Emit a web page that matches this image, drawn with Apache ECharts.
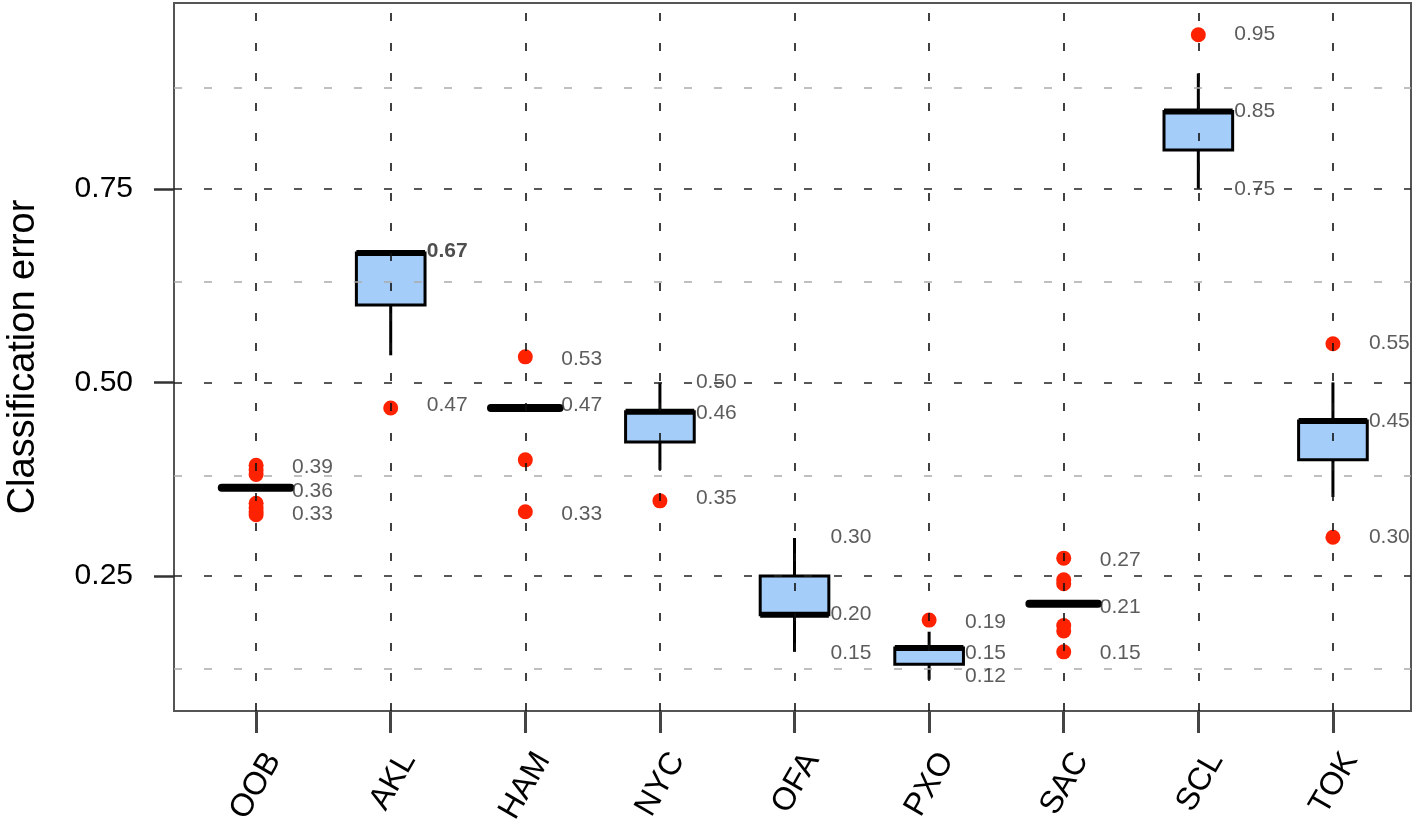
<!DOCTYPE html>
<html>
<head>
<meta charset="utf-8">
<script src="https://cdn.jsdelivr.net/npm/echarts@6/dist/echarts.min.js"></script>
<style>
html,body{margin:0;padding:0;background:#fff;}
#chart{width:1418px;height:822px;}
</style>
</head>
<body>
<div id="chart"></div>
<script>
// ---- data ----
const categories = ['OOB','AKL','HAM','NYC','OFA','PXO','SAC','SCL','TOK'];
// [lowWhisker, Q1, median, Q3, highWhisker]
const boxStats = [
  [0.364, 0.364, 0.364, 0.364, 0.364],
  [0.535, 0.600, 0.667, 0.667, 0.667],
  [0.467, 0.467, 0.467, 0.467, 0.467],
  [0.387, 0.423, 0.462, 0.462, 0.500],
  [0.152, 0.200, 0.200, 0.250, 0.299],
  [0.116, 0.136, 0.157, 0.157, 0.178],
  [0.214, 0.214, 0.214, 0.214, 0.214],
  [0.750, 0.800, 0.850, 0.850, 0.899],
  [0.352, 0.400, 0.450, 0.450, 0.500]
];
const outliers = [
  [0.393, 0.387, 0.381, 0.344, 0.338, 0.333, 0.329],
  [0.467],
  [0.533, 0.400, 0.333],
  [0.347],
  [],
  [0.193],
  [0.273, 0.245, 0.240, 0.186, 0.179, 0.152],
  [0.949],
  [0.550, 0.300]
];
const valueLabels = [
  ['0.39','0.36','0.33'],
  ['0.67','0.47'],
  ['0.53','0.47','0.33'],
  ['0.50','0.46','0.35'],
  ['0.30','0.20','0.15'],
  ['0.19','0.15','0.12'],
  ['0.27','0.21','0.15'],
  ['0.95','0.85','0.75'],
  ['0.55','0.45','0.30']
];
const boldLabels = ['AKL 0.67'];
const yTicks = [0.25, 0.50, 0.75];
const yMinorGrid = [0.125, 0.375, 0.625, 0.875];

// ---- build ----
const xs = categories.map((c, i) => i + 1);
const LABEL_SHIFT = 0.13; // rotated labels sit slightly right of their tick
const xLabelPos = xs.map(v => v + LABEL_SHIFT);
const boxData = boxStats.map((s, i) => [i + 1].concat(s));
const outlierData = [];
outliers.forEach((arr, i) => arr.forEach(v => outlierData.push([i + 1, v])));
const labelData = [];
valueLabels.forEach((arr, i) => arr.forEach(t => {
  const item = {value: [i + 1, parseFloat(t)], name: t};
  if (boldLabels.indexOf(categories[i] + ' ' + t) >= 0) item.label = {fontWeight:'bold', color:'#222'};
  labelData.push(item);
}));

const HALF = 0.255;
function renderBox(params, api) {
  const x = api.value(0);
  const lo = api.value(1), q1 = api.value(2), med = api.value(3), q3 = api.value(4), hi = api.value(5);
  const pLo = api.coord([x, lo]), pQ1 = api.coord([x, q1]), pMed = api.coord([x, med]),
        pQ3 = api.coord([x, q3]), pHi = api.coord([x, hi]);
  const left = api.coord([x - HALF, med])[0], right = api.coord([x + HALF, med])[0];
  const children = [];
  const black = '#000';
  if (hi > q3) children.push({type:'line', shape:{x1:pQ3[0], y1:pQ3[1], x2:pHi[0], y2:pHi[1]}, style:{stroke:black, lineWidth:3}});
  if (lo < q1) children.push({type:'line', shape:{x1:pQ1[0], y1:pQ1[1], x2:pLo[0], y2:pLo[1]}, style:{stroke:black, lineWidth:3}});
  if (q3 > q1) {
    children.push({type:'rect', shape:{x:left, y:pQ3[1], width:right-left, height:pQ1[1]-pQ3[1]},
      style:{fill:'rgba(110,175,245,0.62)', stroke:black, lineWidth:3}});
  }
  children.push({type:'line', shape:{x1:left, y1:pMed[1], x2:right, y2:pMed[1]},
    style:{stroke:black, lineWidth:(q3 > q1 ? 6 : 8), lineCap:(q3 > q1 ? 'butt' : 'round')}});
  return {type:'group', children};
}

const chart = echarts.init(document.getElementById('chart'), null, {renderer:'canvas'});
const dashV = [8, 22];
chart.setOption({
  animation: false,
  backgroundColor: '#fff',
  grid: {left:174, top:3, right:7, bottom:111, show:true, borderColor:'#555', borderWidth:2,
    backgroundColor:'transparent', containLabel:false, outerBoundsMode:'none'},
  xAxis: [{
    type:'value', min:0.39, max:9.58,
    axisLine:{show:false}, splitLine:{show:false},
    axisTick:{show:true, customValues: xs, length:22, lineStyle:{color:'#444', width:3}},
    axisLabel:{customValues: xLabelPos, rotate:60, fontSize:32, color:'#000', margin:44,
      fontFamily:'Liberation Sans, Arial, sans-serif',
      formatter: v => categories[Math.round(v - LABEL_SHIFT) - 1] || ''}
  }],
  yAxis: {
    type:'value', min:0.0756, max:0.99,
    name:'Classification error', nameLocation:'middle', nameGap:131, nameRotate:90,
    nameTextStyle:{fontSize:38, color:'#000', fontFamily:'Liberation Sans, Arial, sans-serif'},
    axisLine:{show:false}, splitLine:{show:false},
    axisTick:{show:true, customValues: yTicks, length:20, lineStyle:{color:'#333', width:2.5}},
    axisLabel:{customValues: yTicks, fontSize:30, color:'#000', margin:41,
      fontFamily:'Liberation Sans, Arial, sans-serif',
      formatter: v => v.toFixed(2)}
  },
  series: [
    {
      type:'custom', name:'box', renderItem: renderBox, data: boxData, z:2,
      encode:{x:0, y:[1,2,3,4,5]}
    },
    {
      type:'line', name:'grid', data:[], z:3, silent:true,
      markLine:{
        silent:true, symbol:'none', label:{show:false}, animation:false,
        data: [].concat(
          xs.map(v => ({xAxis:v, lineStyle:{color:'#111', type:dashV, width:1.6}})),
          yTicks.map(v => ({yAxis:v, lineStyle:{color:'#222', type:dashV, width:1.6}})),
          yMinorGrid.map(v => ({yAxis:v, lineStyle:{color:'#aaa', type:dashV, width:1.6}}))
        )
      }
    },
    {
      type:'scatter', name:'outliers', data: outlierData, z:4,
      symbol:'circle', symbolSize:15, itemStyle:{color:'#ff2200', opacity:1}
    },
    {
      type:'scatter', name:'labels', data: labelData, z:5,
      symbolSize:0, silent:true,
      label:{show:true, position:'right', distance:36, formatter: p => p.name,
        fontSize:21, color:'#333', fontFamily:'Liberation Sans, Arial, sans-serif'}
    }
  ]
});
</script>
</body>
</html>
